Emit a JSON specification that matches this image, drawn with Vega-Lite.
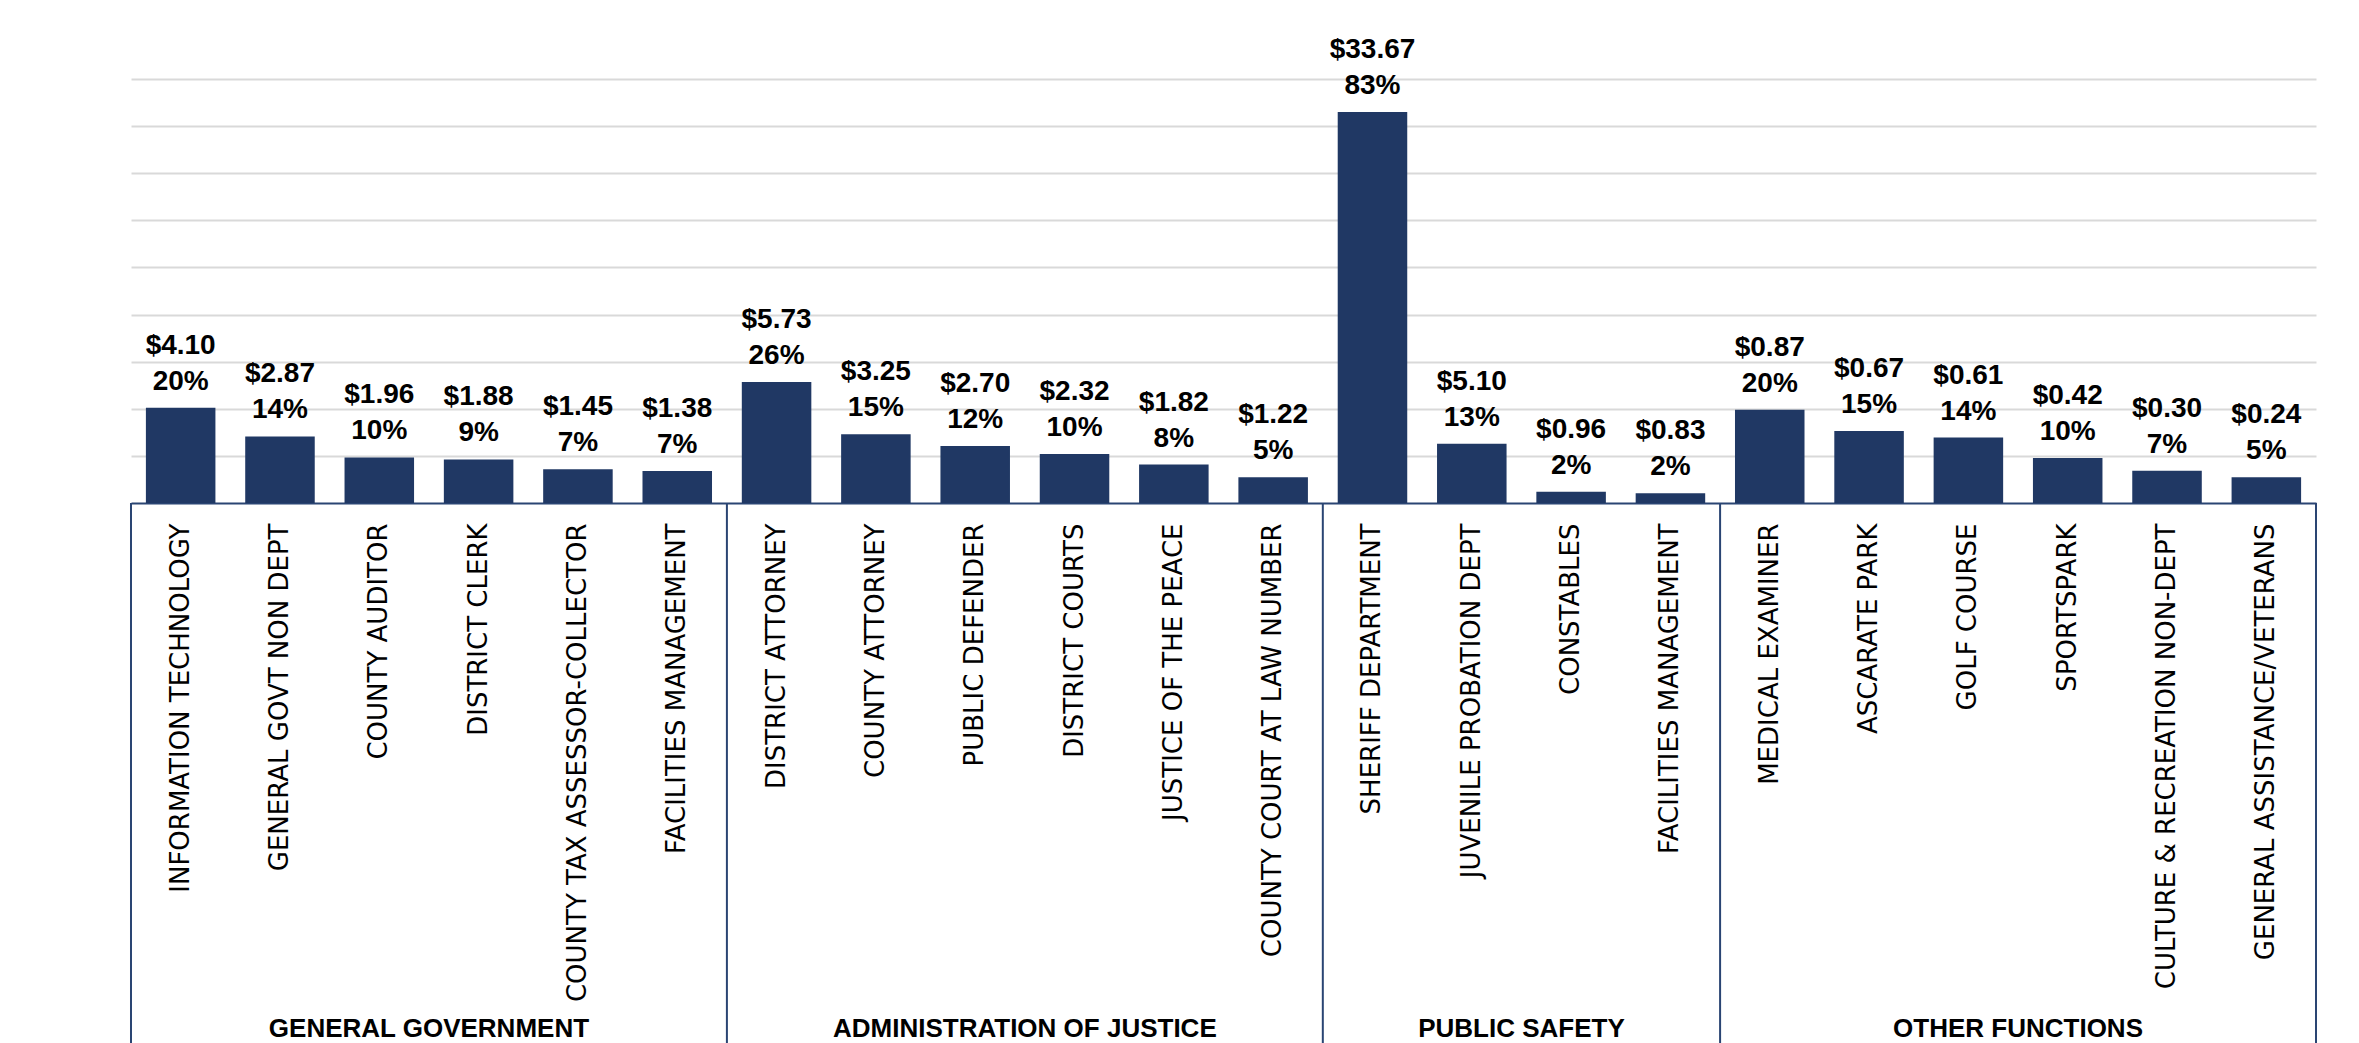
{
  "$schema": "https://vega.github.io/schema/vega-lite/v6.json",
  "width": 2185,
  "height": 424,
  "autosize": {"type": "none"},
  "padding": {"left": 131, "top": 79, "right": 43, "bottom": 540},
  "background": "#ffffff",
  "config": {"view": {"stroke": null}},
  "datasets": {
    "depts": [
      {"dept": "INFORMATION TECHNOLOGY", "group": "GENERAL GOVERNMENT", "dollars": 4.10, "share": 0.2020},
      {"dept": "GENERAL GOVT NON DEPT", "group": "GENERAL GOVERNMENT", "dollars": 2.87, "share": 0.1414},
      {"dept": "COUNTY AUDITOR", "group": "GENERAL GOVERNMENT", "dollars": 1.96, "share": 0.0966},
      {"dept": "DISTRICT CLERK", "group": "GENERAL GOVERNMENT", "dollars": 1.88, "share": 0.0926},
      {"dept": "COUNTY TAX ASSESSOR-COLLECTOR", "group": "GENERAL GOVERNMENT", "dollars": 1.45, "share": 0.0714},
      {"dept": "FACILITIES MANAGEMENT", "group": "GENERAL GOVERNMENT", "dollars": 1.38, "share": 0.0680},
      {"dept": "DISTRICT ATTORNEY", "group": "ADMINISTRATION OF JUSTICE", "dollars": 5.73, "share": 0.2570},
      {"dept": "COUNTY ATTORNEY", "group": "ADMINISTRATION OF JUSTICE", "dollars": 3.25, "share": 0.1457},
      {"dept": "PUBLIC DEFENDER", "group": "ADMINISTRATION OF JUSTICE", "dollars": 2.70, "share": 0.1211},
      {"dept": "DISTRICT COURTS", "group": "ADMINISTRATION OF JUSTICE", "dollars": 2.32, "share": 0.1040},
      {"dept": "JUSTICE OF THE PEACE", "group": "ADMINISTRATION OF JUSTICE", "dollars": 1.82, "share": 0.0816},
      {"dept": "COUNTY COURT AT LAW NUMBER", "group": "ADMINISTRATION OF JUSTICE", "dollars": 1.22, "share": 0.0547},
      {"dept": "SHERIFF DEPARTMENT", "group": "PUBLIC SAFETY", "dollars": 33.67, "share": 0.8301},
      {"dept": "JUVENILE PROBATION DEPT", "group": "PUBLIC SAFETY", "dollars": 5.10, "share": 0.1257},
      {"dept": "CONSTABLES", "group": "PUBLIC SAFETY", "dollars": 0.96, "share": 0.0237},
      {"dept": "FACILITIES MANAGEMENT ", "group": "PUBLIC SAFETY", "dollars": 0.83, "share": 0.0205},
      {"dept": "MEDICAL EXAMINER", "group": "OTHER FUNCTIONS", "dollars": 0.87, "share": 0.1982},
      {"dept": "ASCARATE PARK", "group": "OTHER FUNCTIONS", "dollars": 0.67, "share": 0.1526},
      {"dept": "GOLF COURSE", "group": "OTHER FUNCTIONS", "dollars": 0.61, "share": 0.1390},
      {"dept": "SPORTSPARK", "group": "OTHER FUNCTIONS", "dollars": 0.42, "share": 0.0957},
      {"dept": "CULTURE & RECREATION NON-DEPT", "group": "OTHER FUNCTIONS", "dollars": 0.30, "share": 0.0683},
      {"dept": "GENERAL ASSISTANCE/VETERANS", "group": "OTHER FUNCTIONS", "dollars": 0.24, "share": 0.0547}
    ],
    "starts": [
      {"dept": "INFORMATION TECHNOLOGY"},
      {"dept": "DISTRICT ATTORNEY"},
      {"dept": "SHERIFF DEPARTMENT"},
      {"dept": "MEDICAL EXAMINER"}
    ],
    "ends": [
      {"dept": "GENERAL ASSISTANCE/VETERANS"}
    ],
    "groups": [
      {"dept": "DISTRICT CLERK", "group": "GENERAL GOVERNMENT"},
      {"dept": "DISTRICT COURTS", "group": "ADMINISTRATION OF JUSTICE"},
      {"dept": "CONSTABLES", "group": "PUBLIC SAFETY"},
      {"dept": "SPORTSPARK", "group": "OTHER FUNCTIONS"}
    ]
  },
  "layer": [
    {
      "data": {"name": "depts"},
      "mark": {"type": "bar", "color": "#203864"},
      "encoding": {
        "x": {
          "field": "dept", "type": "nominal", "sort": null, "title": null,
          "scale": {
            "domain": ["INFORMATION TECHNOLOGY", "GENERAL GOVT NON DEPT", "COUNTY AUDITOR", "DISTRICT CLERK", "COUNTY TAX ASSESSOR-COLLECTOR", "FACILITIES MANAGEMENT", "DISTRICT ATTORNEY", "COUNTY ATTORNEY", "PUBLIC DEFENDER", "DISTRICT COURTS", "JUSTICE OF THE PEACE", "COUNTY COURT AT LAW NUMBER", "SHERIFF DEPARTMENT", "JUVENILE PROBATION DEPT", "CONSTABLES", "FACILITIES MANAGEMENT ", "MEDICAL EXAMINER", "ASCARATE PARK", "GOLF COURSE", "SPORTSPARK", "CULTURE & RECREATION NON-DEPT", "GENERAL ASSISTANCE/VETERANS"],
            "paddingInner": 0.3, "paddingOuter": 0.15
          },
          "axis": {
            "orient": "bottom", "labelAngle": -90, "labelAlign": "right", "labelBaseline": "middle",
            "labelFont": "DejaVu Sans", "labelFontSize": 26, "labelColor": "#000000",
            "labelPadding": 20, "labelLimit": 1000, "labelOverlap": false,
            "ticks": false, "tickSize": 0, "grid": false,
            "domainColor": "#2a4573", "domainWidth": 2
          }
        },
        "y": {
          "field": "share", "type": "quantitative", "title": null,
          "scale": {"domain": [0, 0.9], "nice": false, "zero": true},
          "axis": {
            "values": [0.1, 0.2, 0.3, 0.4, 0.5, 0.6, 0.7, 0.8, 0.9],
            "labels": false, "ticks": false, "domain": false,
            "grid": true, "gridColor": "#d9d9d9", "gridWidth": 2
          }
        }
      }
    },
    {
      "data": {"name": "depts"},
      "mark": {"type": "text", "font": "Liberation Sans", "fontWeight": "bold", "fontSize": 28, "color": "#000000", "align": "center", "baseline": "alphabetic", "dy": -18},
      "encoding": {
        "x": {"field": "dept", "type": "nominal", "title": null},
        "y": {"field": "share", "type": "quantitative", "title": null},
        "text": {"field": "share", "type": "quantitative", "format": ".0%"}
      }
    },
    {
      "data": {"name": "depts"},
      "mark": {"type": "text", "font": "Liberation Sans", "fontWeight": "bold", "fontSize": 28, "color": "#000000", "align": "center", "baseline": "alphabetic", "dy": -54},
      "encoding": {
        "x": {"field": "dept", "type": "nominal", "title": null},
        "y": {"field": "share", "type": "quantitative", "title": null},
        "text": {"field": "dollars", "type": "quantitative", "format": "$.2f"}
      }
    },
    {
      "data": {"name": "starts"},
      "mark": {"type": "rule", "color": "#2a4573", "strokeWidth": 2},
      "encoding": {
        "x": {"field": "dept", "type": "nominal", "title": null, "bandPosition": -0.2143},
        "y": {"datum": 0, "type": "quantitative"},
        "y2": {"datum": -1.16}
      }
    },
    {
      "data": {"name": "ends"},
      "mark": {"type": "rule", "color": "#2a4573", "strokeWidth": 2},
      "encoding": {
        "x": {"field": "dept", "type": "nominal", "title": null, "bandPosition": 1.2143},
        "y": {"datum": 0, "type": "quantitative"},
        "y2": {"datum": -1.16}
      }
    },
    {
      "data": {"name": "groups"},
      "mark": {"type": "text", "font": "Liberation Sans", "fontWeight": "bold", "fontSize": 26, "color": "#000000", "align": "center", "baseline": "alphabetic"},
      "encoding": {
        "x": {"field": "dept", "type": "nominal", "title": null, "bandPosition": -0.2143},
        "y": {"datum": -1.133, "type": "quantitative"},
        "text": {"field": "group", "type": "nominal"}
      }
    }
  ]
}
